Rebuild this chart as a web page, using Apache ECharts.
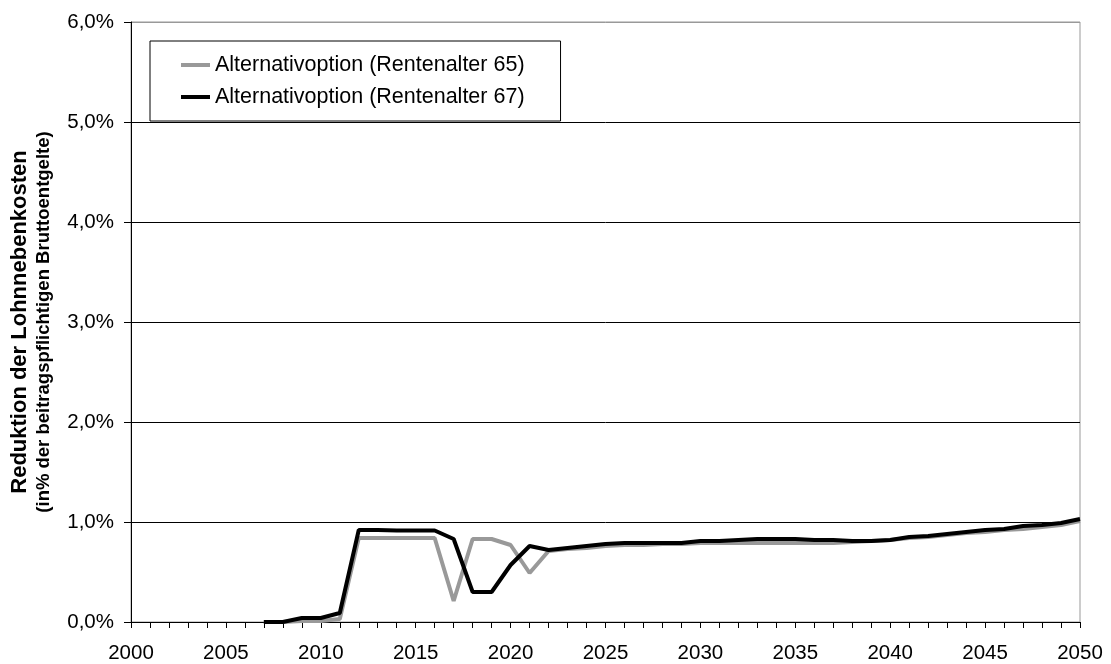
<!DOCTYPE html>
<html>
<head>
<meta charset="utf-8">
<script src="https://cdn.jsdelivr.net/npm/echarts@6/dist/echarts.min.js"></script>
<style>
html,body{margin:0;padding:0;background:#fff;}
#chart{width:1111px;height:664px;}
</style>
</head>
<body>
<div id="chart"></div>
<script>
const years = [];
for (let y = 2000; y <= 2050; y++) years.push(String(y));

const seriesNames = ['Alternativoption (Rentenalter 65)', 'Alternativoption (Rentenalter 67)'];

const rente65 = [
  null, null, null, null, null, null, null,
  0.00, 0.00, 0.01, 0.01, 0.03,
  0.84, 0.84, 0.84, 0.84, 0.84,
  0.21, 0.83, 0.83, 0.77, 0.49,
  0.71, 0.73, 0.74, 0.76, 0.77, 0.77, 0.78, 0.78,
  0.79, 0.79, 0.79, 0.79, 0.79, 0.79, 0.79, 0.79,
  0.80, 0.81, 0.82, 0.84, 0.85, 0.87, 0.89, 0.90,
  0.92, 0.93, 0.95, 0.97, 1.01
];

const rente67 = [
  null, null, null, null, null, null, null,
  0.00, 0.00, 0.04, 0.04, 0.09,
  0.92, 0.92, 0.915, 0.915, 0.915,
  0.83, 0.30, 0.30, 0.57, 0.76,
  0.72, 0.74, 0.76, 0.78, 0.79, 0.79, 0.79, 0.79,
  0.81, 0.81, 0.82, 0.83, 0.83, 0.83, 0.82, 0.82,
  0.81, 0.81, 0.82, 0.85, 0.86, 0.88, 0.90, 0.92,
  0.93, 0.96, 0.97, 0.99, 1.03
];

const yTitle1 = 'Reduktion der Lohnnebenkosten';
const yTitle2 = '(in% der beitragspflichtigen Bruttoentgelte)';

const FONT = "'Liberation Sans', Arial, sans-serif";

const chart = echarts.init(document.getElementById('chart'), null, {renderer: 'canvas'});
chart.setOption({
  animation: false,
  backgroundColor: '#ffffff',
  textStyle: {fontFamily: FONT},
  grid: {
    left: 131, right: 31, top: 22, height: 600,
    show: true, borderColor: '#999999', borderWidth: 1, backgroundColor: 'transparent'
  },
  legend: {
    left: 150, top: 41,
    orient: 'vertical',
    backgroundColor: '#ffffff',
    borderColor: '#000000', borderWidth: 1,
    padding: [13, 36, 13, 31],
    itemGap: 10,
    itemWidth: 29, itemHeight: 4,
    icon: 'rect',
    textStyle: {fontFamily: FONT, fontSize: 21.5, color: '#000', lineHeight: 22},
    data: seriesNames
  },
  xAxis: {
    type: 'category',
    data: years,
    boundaryGap: false,
    axisLine: {lineStyle: {color: '#000', width: 1}},
    axisTick: {show: true, interval: 0, length: 6, lineStyle: {color: '#000'}},
    axisLabel: {interval: 4, margin: 21, fontFamily: FONT, fontSize: 20.5, color: '#000'},
    splitLine: {show: false}
  },
  yAxis: {
    type: 'value',
    min: 0, max: 6, interval: 1,
    name: '{a|' + yTitle1 + '}\n{b|' + yTitle2 + '}',
    nameLocation: 'middle',
    nameRotate: 90,
    nameGap: 76,
    nameTextStyle: {
      rich: {
        a: {fontFamily: FONT, fontSize: 22, fontWeight: 'bold', color: '#000', lineHeight: 26},
        b: {fontFamily: FONT, fontSize: 18.5, fontWeight: 'bold', color: '#000', lineHeight: 22}
      }
    },
    axisLine: {show: true, lineStyle: {color: '#000', width: 1}},
    axisTick: {show: true, length: 7, lineStyle: {color: '#000'}},
    axisLabel: {
      margin: 17,
      fontFamily: FONT, fontSize: 20.5, color: '#000',
      formatter: v => v.toFixed(1).replace('.', ',') + '%'
    },
    splitLine: {show: true, lineStyle: {color: ['#000', '#000', '#000', '#000', '#000', '#000', '#999'], width: 1}}
  },
  series: [
    {
      name: seriesNames[0], type: 'line', data: rente65,
      symbol: 'none', showSymbol: false, connectNulls: false,
      lineStyle: {color: '#999999', width: 4},
      itemStyle: {color: '#999999'}
    },
    {
      name: seriesNames[1], type: 'line', data: rente67,
      symbol: 'none', showSymbol: false, connectNulls: false,
      lineStyle: {color: '#000000', width: 4},
      itemStyle: {color: '#000000'}
    }
  ]
});
</script>
</body>
</html>
